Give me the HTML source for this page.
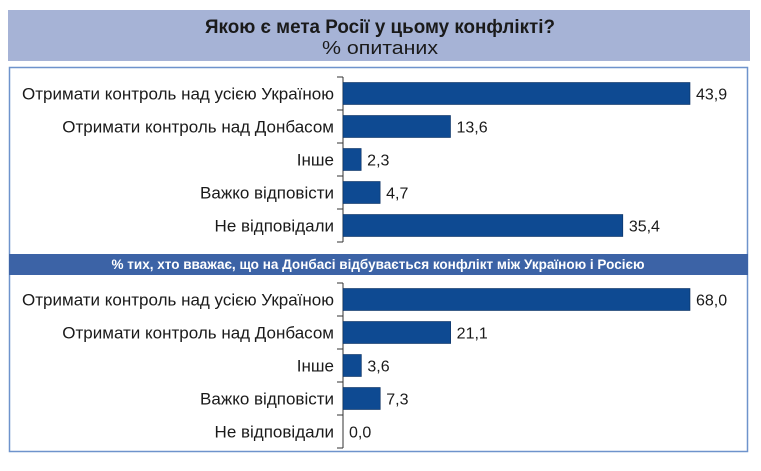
<!DOCTYPE html>
<html><head><meta charset="utf-8"><style>
html,body{margin:0;padding:0;background:#fff;width:761px;height:471px;overflow:hidden}
svg text{font-family:"Liberation Sans",sans-serif}
</style></head><body>
<svg id="c" width="761" height="471">
<rect x="8" y="10" width="742" height="51" fill="#a6b3d6"/>
<text x="380" y="33" text-anchor="middle" font-size="19" font-weight="bold" fill="#1a1a1a" textLength="350" lengthAdjust="spacingAndGlyphs">Якою є мета Росії у цьому конфлікті?</text>
<text x="380" y="54" text-anchor="middle" font-size="18" fill="#1a1a1a" textLength="116" lengthAdjust="spacingAndGlyphs">% опитаних</text>
<rect x="9.5" y="67.5" width="738" height="384" fill="none" stroke="#6e93cc" stroke-width="1.5"/>
<rect x="9" y="254" width="739" height="21" fill="#3c63a6"/>
<text x="378" y="269" text-anchor="middle" font-size="14" font-weight="bold" fill="#fff" textLength="533" lengthAdjust="spacingAndGlyphs">% тих, хто вважає, що на Донбасі відбувається конфлікт між Україною і Росією</text>
<g id="g"></g>
</svg>
<script>
const categories=["Отримати контроль над усією Україною","Отримати контроль над Донбасом","Інше","Важко відповісти","Не відповідали"];
const valuesAll=[43.9,13.6,2.3,4.7,35.4];
const valuesConflict=[68.0,21.1,3.6,7.3,0.0];
const labelsAll=["43,9","13,6","2,3","4,7","35,4"];
const labelsConflict=["68,0","21,1","3,6","7,3","0,0"];
const NS="http://www.w3.org/2000/svg";
const g=document.getElementById('g');
function mk(t,a){const e=document.createElementNS(NS,t);for(const k in a)e.setAttribute(k,a[k]);g.appendChild(e);return e;}
function panel(vals,labs,top,maxV,prefix){
  const x0=343,x1=690,step=33;
  const xs=v=>x0+(v/maxV)*(x1-x0);
  const ax=mk('line',{x1:x0,x2:x0,y1:top,y2:top+step*vals.length,stroke:'#333','stroke-width':1});
  
  
  for(let i=0;i<=vals.length;i++){
    const t=mk('line',{x1:x0-6,x2:x0,y1:top+step*i,y2:top+step*i,stroke:'#333','stroke-width':1});
    
    
  }
  vals.forEach((v,i)=>{
    const cy=top+step*i+step/2;
    const l=mk('text',{x:x0-9,y:cy+6,'text-anchor':'end','font-size':17,fill:'#1a1a1a',transform:`translate(${x0-9} 0) scale(1.0 1) translate(${-(x0-9)} 0)`});
    l.textContent=categories[i];
    
    
    const w=xs(v)-x0;
    if(w>0){
      const b=mk('rect',{x:x0,y:cy-11,width:w,height:22,fill:'#0e4a92',stroke:'#0a2f60','stroke-width':0.6});
      
      
    }
    const vl=mk('text',{x:xs(v)+6,y:cy+6,'font-size':16,fill:'#1a1a1a'});
    vl.textContent=labs[i];
    
    
  });
}
panel(valuesAll,labelsAll,77,43.9,'all');
panel(valuesConflict,labelsConflict,283,68.0,'conflict');
</script>
</body></html>
